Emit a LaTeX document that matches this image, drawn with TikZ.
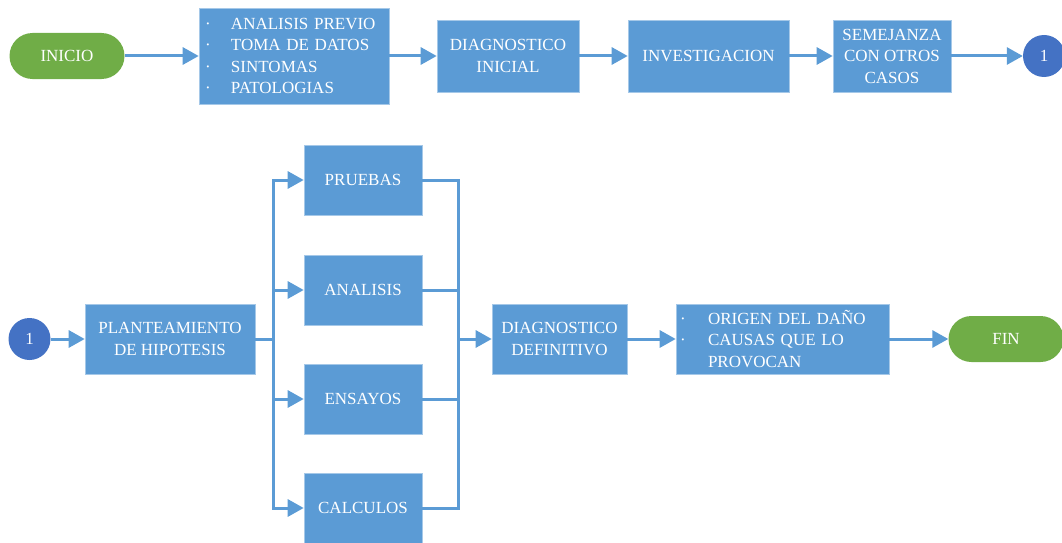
\documentclass[tikz,border=0pt]{standalone}
\usepackage{fontspec}
\setmainfont{Liberation Serif}
\usetikzlibrary{arrows.meta}
\definecolor{cajaazul}{HTML}{5B9BD5}
\definecolor{verde}{HTML}{70AD47}
\definecolor{azulosc}{HTML}{4472C4}

\begin{document}
\begin{tikzpicture}[x=1pt,y=-1pt,
  every node/.style={font=\fontsize{17}{21.5}\selectfont},
  caja/.style={fill=cajaazul, draw=cajaazul!55!white, line width=0.6pt, text=white, align=center, inner sep=2pt, minimum height=72pt},
  terminal/.style={fill=verde, text=white, rounded corners=23pt, minimum width=115pt, minimum height=46pt},
  conector/.style={circle, fill=azulosc, text=white, minimum size=42pt, inner sep=0pt},
  flecha/.style={draw=cajaazul, line width=3pt, -{Triangle[length=16pt,width=17pt]}},
  linea/.style={draw=cajaazul, line width=3pt}]
  \useasboundingbox (0,0) rectangle (1062,543);

  % Top row
  \node[terminal] (inicio) at (67,56) {INICIO};
  \node[caja, minimum height=96pt, text width=178pt, inner xsep=6pt, align=left] (datos) at (294,56)
    {\makebox[26pt][l]{·}ANALISIS PREVIO\\
     \makebox[26pt][l]{·}TOMA DE DATOS\\
     \makebox[26pt][l]{·}SINTOMAS\\
     \makebox[26pt][l]{·}PATOLOGIAS};
  \node[caja, minimum width=142pt] (dinicial) at (508,56) {DIAGNOSTICO\\INICIAL};
  \node[caja, minimum width=161pt] (invest) at (708.5,56) {INVESTIGACION};
  \node[caja, minimum width=118pt] (semej) at (892,56) {SEMEJANZA\\CON OTROS\\CASOS};
  \node[conector] (uno) at (1044,56) {1};

  \draw[flecha] (inicio) -- (datos);
  \draw[flecha] (datos) -- (dinicial);
  \draw[flecha] (dinicial) -- (invest);
  \draw[flecha] (invest) -- (semej);
  \draw[flecha] (semej) -- (uno);

  % Bottom row
  \node[conector] (dos) at (29.5,339) {1};
  \node[caja, minimum width=170pt, minimum height=70pt] (plan) at (170,339) {PLANTEAMIENTO\\DE HIPOTESIS};
  \foreach \nombre/\texto/\y in {pru/PRUEBAS/180, ana/ANALISIS/290, ens/ENSAYOS/399, cal/CALCULOS/508}
    \node[caja, minimum width=118pt, minimum height=70pt] (\nombre) at (363,\y) {\texto};
  \node[caja, minimum width=135pt, minimum height=70pt] (ddef) at (559.5,339) {DIAGNOSTICO\\DEFINITIVO};
  \node[caja, minimum height=70pt, text width=205pt, inner xsep=4pt, align=left] (origen) at (782.5,339)
    {\makebox[28pt][l]{·}ORIGEN DEL DAÑO\\
     \makebox[28pt][l]{·}CAUSAS QUE LO\\
     \makebox[28pt][l]{}PROVOCAN};
  \node[terminal] (fin) at (1006,339) {FIN};

  \coordinate (divide) at (273,339);
  \coordinate (une) at (458,339);

  \draw[flecha] (dos) -- (plan);
  \draw[linea] (plan) -- (divide);
  \foreach \nombre in {pru,ana,ens,cal}
    \draw[flecha] (divide) |- (\nombre);
  \foreach \nombre in {pru,ana,ens,cal}
    \draw[linea] (\nombre) -| (une);
  \draw[flecha] (une) -- (ddef);
  \draw[flecha] (ddef) -- (origen);
  \draw[flecha] (origen) -- (fin);
\end{tikzpicture}
\end{document}
